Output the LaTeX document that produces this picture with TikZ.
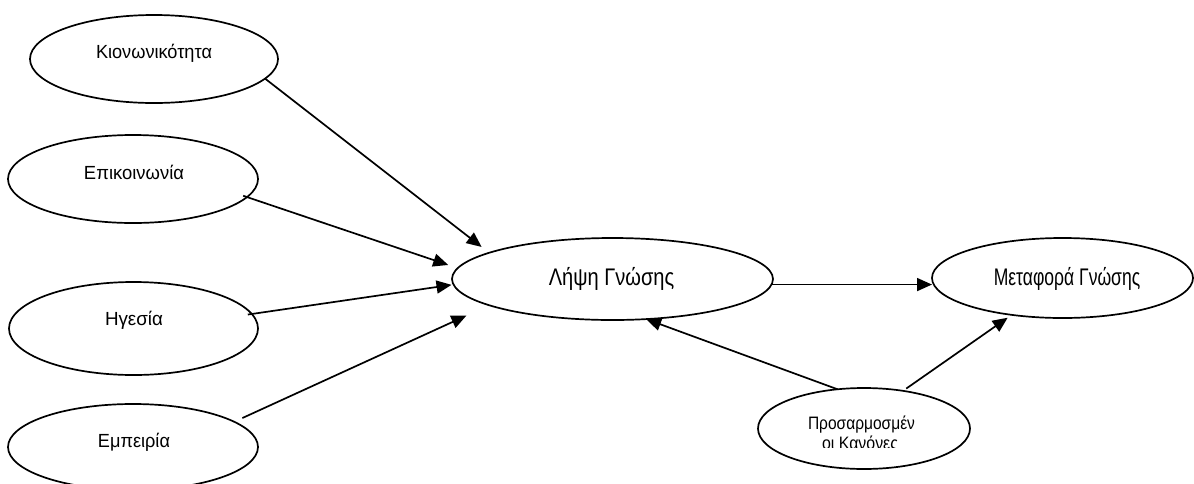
\documentclass[tikz,border=0pt]{standalone}
\usepackage{fontspec}
\setmainfont{Liberation Sans}
\usetikzlibrary{arrows.meta,shapes.geometric}
\newcommand{\fitw}[2]{\resizebox{#1}{\height}{#2}}
\begin{document}
\begin{tikzpicture}[x=1pt,y=-1pt,
  ell/.style={draw,ellipse,line width=1.7pt,inner sep=0pt,outer sep=0pt},
  lbl/.style={inner sep=0pt,outer sep=0pt,anchor=base},
  arr/.style={line width=1.7pt,-{Triangle[length=15pt,width=13pt]}},
  small/.style={font=\fontsize{19}{23}\selectfont},
  big/.style={font=\fontsize{24}{28}\selectfont},
  mid/.style={font=\fontsize{18}{20}\selectfont}]
\useasboundingbox (0,0) rectangle (1194,483);
% ellipses
\node[ell,minimum width=248pt,minimum height=88pt] (k) at (154,59) {};
\node[ell,minimum width=250pt,minimum height=88pt] (e) at (133,179) {};
\node[ell,minimum width=249pt,minimum height=93pt] (h) at (133.5,328.5) {};
\node[ell,minimum width=250pt,minimum height=86pt] (m) at (133,447) {};
\node[ell,minimum width=321pt,minimum height=82pt] (l) at (612.5,279) {};
\node[ell,minimum width=261pt,minimum height=80pt] (t) at (1062.5,278) {};
\node[ell,minimum width=212pt,minimum height=81pt] (p) at (864,428.5) {};
% labels
\node[lbl,small] (kt) at (154,58.3) {\fitw{116pt}{Κιονωνικότητα}};
\node[lbl,small] (et) at (134,179.3) {\fitw{100pt}{Επικοινωνία}};
\node[lbl,small] (ht) at (134,325) {\fitw{58pt}{Ηγεσία}};
\node[lbl,small] (mt) at (134,447.3) {\fitw{72pt}{Εμπειρία}};
\node[lbl,big] (lt) at (611.5,285) {\fitw{125.5pt}{Λήψη Γνώσης}};
\node[lbl,big] (tt) at (1067,285) {\fitw{146.5pt}{Μεταφορά Γνώσης}};
\begin{scope}
\clip (750,395) rectangle (980,447.3);
\node[lbl,mid] (pt1) at (861.5,429) {\fitw{107pt}{Προσαρμοσμέν}};
\node[lbl,mid] (pt2) at (860,449.5) {\fitw{76pt}{οι Κανόνες}};
\end{scope}
% connectors
\draw[arr,shorten >=9.5pt] (k.-10) -- (l.168);
\draw[arr,shorten >=10pt,shorten <=-4pt] (e.-9) -- (l.176);
\draw[arr,shorten >=2pt,shorten <=-4pt] (h.7) -- (l.182.4);
\draw[arr,shorten >=25pt,shorten <=9pt] (m.14) -- (l.192);
\draw[arr] (l.-2.5) -- (l.-2.5 -| t.west);
\draw[arr] (p.124) -- (l.-50);
\draw[arr,shorten >=5pt,shorten <=4pt] (p.44) -- (t.216.5);
\end{tikzpicture}
\end{document}
